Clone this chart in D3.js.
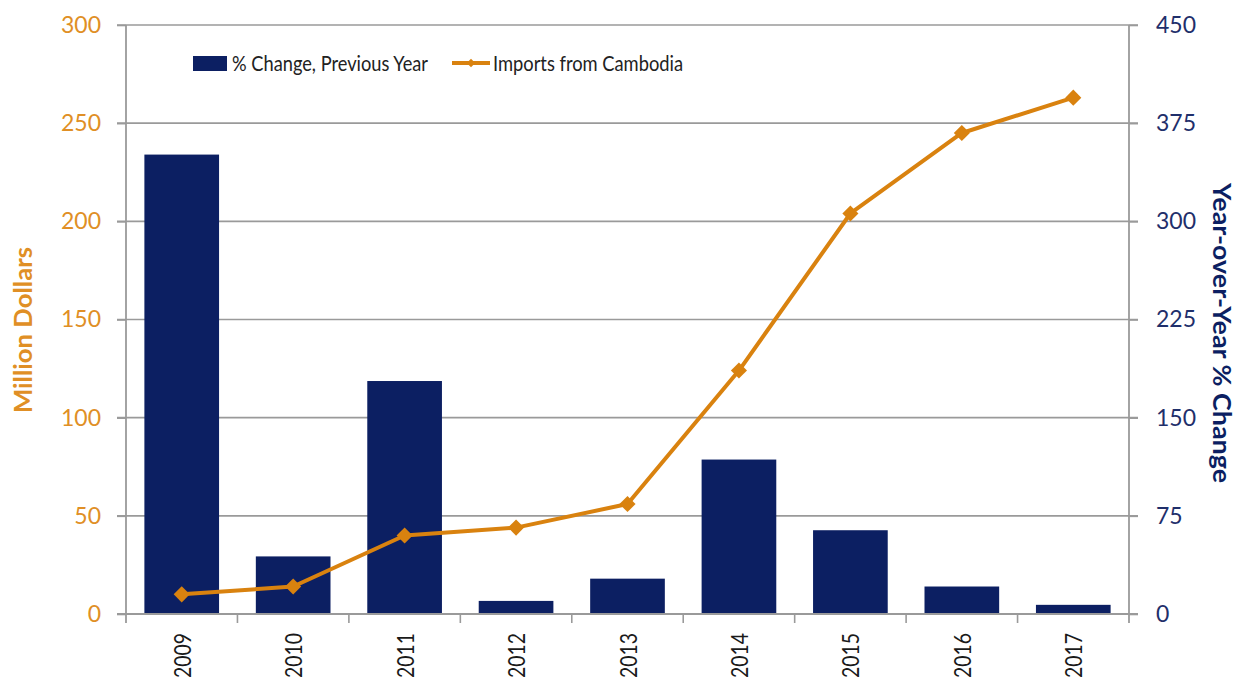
<!DOCTYPE html>
<html>
<head>
<meta charset="utf-8">
<script src="https://cdn.jsdelivr.net/npm/d3@7"></script>
<style>
  html, body { margin: 0; padding: 0; background: #ffffff; }
  svg { display: block; font-family: Lato, "Open Sans", sans-serif; }
</style>
</head>
<body>
<svg id="chart" width="1243" height="687"></svg>
<script>
// Years on the category axis
const years = ["2009", "2010", "2011", "2012", "2013", "2014", "2015", "2016", "2017"];
// Imports from Cambodia, million dollars (left axis)
const imports = [10, 14, 40, 44, 56, 124, 204, 245, 263];
// Year-over-year % change (right axis)
const pctChange = [351, 44, 178, 10, 27, 118, 64, 21, 7];
// Axis tick values
const leftTicks = [0, 50, 100, 150, 200, 250, 300];
const rightTicks = [0, 75, 150, 225, 300, 375, 450];

const NAVY = "#0c1f62";
const ORANGE = "#d9820f";
const ORANGE_TEXT = "#e08f25";
const GRID = "#9a9a9a";

const svg = d3.select("#chart");
const m = { left: 126, right: 1129, top: 25, bottom: 614 };

const x = d3.scaleBand().domain(years).range([m.left, m.right]).paddingInner(0.33).paddingOuter(0.165);
const xEdge = d3.scaleBand().domain(years).range([m.left, m.right]).padding(0);
const yL = d3.scaleLinear().domain([0, 300]).range([m.bottom, m.top]);
const yR = d3.scaleLinear().domain([0, 450]).range([m.bottom, m.top]);

// Horizontal gridlines, spanning from the left ticks to the right ticks
svg.append("g")
  .selectAll("line")
  .data(leftTicks.filter(d => d > 0))
  .join("line")
  .attr("x1", m.left - 9).attr("x2", m.right + 9)
  .attr("y1", d => yL(d)).attr("y2", d => yL(d))
  .attr("stroke", GRID).attr("stroke-width", 1.6);

// Bars: % change
svg.append("g")
  .selectAll("rect")
  .data(years)
  .join("rect")
  .attr("x", d => x(d))
  .attr("width", x.bandwidth())
  .attr("y", (d, i) => yR(pctChange[i]))
  .attr("height", (d, i) => yR(0) - yR(pctChange[i]))
  .attr("fill", NAVY);

// Left axis
const leftAxis = svg.append("g")
  .attr("transform", `translate(${m.left},0)`)
  .call(d3.axisLeft(yL).tickValues(leftTicks).tickSize(9).tickPadding(16));
leftAxis.select(".domain").remove();
leftAxis.selectAll(".tick line").attr("stroke", GRID).attr("stroke-width", 1.6);
leftAxis.selectAll(".tick text")
  .attr("fill", ORANGE_TEXT).attr("font-size", 23).attr("font-family", "Lato, sans-serif");
svg.append("line")
  .attr("x1", m.left).attr("x2", m.left)
  .attr("y1", m.top).attr("y2", m.bottom + 9)
  .attr("stroke", GRID).attr("stroke-width", 1.8);

// Right axis
const rightAxis = svg.append("g")
  .attr("transform", `translate(${m.right},0)`)
  .call(d3.axisRight(yR).tickValues(rightTicks).tickSize(9).tickPadding(18));
rightAxis.select(".domain").remove();
rightAxis.selectAll(".tick line").attr("stroke", GRID).attr("stroke-width", 1.6);
rightAxis.selectAll(".tick text")
  .attr("fill", "#1f2f6b").attr("font-size", 23).attr("font-family", "Lato, sans-serif");
svg.append("line")
  .attr("x1", m.right).attr("x2", m.right)
  .attr("y1", m.top).attr("y2", m.bottom + 9)
  .attr("stroke", GRID).attr("stroke-width", 1.8);

// Bottom axis: baseline, boundary ticks, rotated year labels
svg.append("line")
  .attr("x1", m.left - 9).attr("x2", m.right + 9)
  .attr("y1", m.bottom).attr("y2", m.bottom)
  .attr("stroke", GRID).attr("stroke-width", 1.8);
svg.append("g")
  .selectAll("line")
  .data(years.slice(1))
  .join("line")
  .attr("x1", d => xEdge(d)).attr("x2", d => xEdge(d))
  .attr("y1", m.bottom).attr("y2", m.bottom + 9)
  .attr("stroke", GRID).attr("stroke-width", 1.6);
svg.append("g")
  .selectAll("text")
  .data(years)
  .join("text")
  .attr("transform", d => `translate(${x(d) + x.bandwidth() / 2 + 9},633) rotate(-90)`)
  .attr("text-anchor", "end")
  .attr("font-size", 23)
  .attr("textLength", 45)
  .attr("lengthAdjust", "spacingAndGlyphs")
  .attr("fill", "#1a1a1a")
  .text(d => d);

// Line: imports
const line = d3.line()
  .x((d, i) => x(years[i]) + x.bandwidth() / 2)
  .y(d => yL(d));
svg.append("path")
  .datum(imports)
  .attr("d", line)
  .attr("fill", "none")
  .attr("stroke", ORANGE)
  .attr("stroke-width", 4)
  .attr("stroke-linejoin", "round");
const diamond = d3.symbol().type(d3.symbolDiamond2).size(165);
svg.append("g")
  .selectAll("path")
  .data(imports)
  .join("path")
  .attr("d", diamond)
  .attr("transform", (d, i) => `translate(${x(years[i]) + x.bandwidth() / 2},${yL(d)})`)
  .attr("fill", ORANGE);

// Axis titles
svg.append("text")
  .attr("transform", "translate(32,330) rotate(-90)")
  .attr("text-anchor", "middle")
  .attr("font-size", 25).attr("font-weight", "bold")
  .attr("textLength", 166)
  .attr("lengthAdjust", "spacingAndGlyphs")
  .attr("fill", ORANGE_TEXT)
  .text("Million Dollars");
svg.append("text")
  .attr("transform", "translate(1213,333) rotate(90)")
  .attr("text-anchor", "middle")
  .attr("font-size", 25).attr("font-weight", "bold")
  .attr("textLength", 300)
  .attr("lengthAdjust", "spacingAndGlyphs")
  .attr("fill", NAVY)
  .text("Year-over-Year % Change");

// Legend
const legend = svg.append("g");
legend.append("rect")
  .attr("x", 193).attr("y", 56).attr("width", 34).attr("height", 15)
  .attr("fill", NAVY);
legend.append("text")
  .attr("x", 232).attr("y", 71)
  .attr("font-size", 22).attr("fill", "#222")
  .attr("textLength", 196)
  .attr("lengthAdjust", "spacingAndGlyphs")
  .text("% Change, Previous Year");
legend.append("line")
  .attr("x1", 452).attr("x2", 490).attr("y1", 63).attr("y2", 63)
  .attr("stroke", ORANGE).attr("stroke-width", 4);
legend.append("path")
  .attr("d", d3.symbol().type(d3.symbolDiamond2).size(45))
  .attr("transform", "translate(471,63)")
  .attr("fill", ORANGE);
legend.append("text")
  .attr("x", 493).attr("y", 71)
  .attr("font-size", 22).attr("fill", "#222")
  .attr("textLength", 190)
  .attr("lengthAdjust", "spacingAndGlyphs")
  .text("Imports from Cambodia");
</script>
</body>
</html>
